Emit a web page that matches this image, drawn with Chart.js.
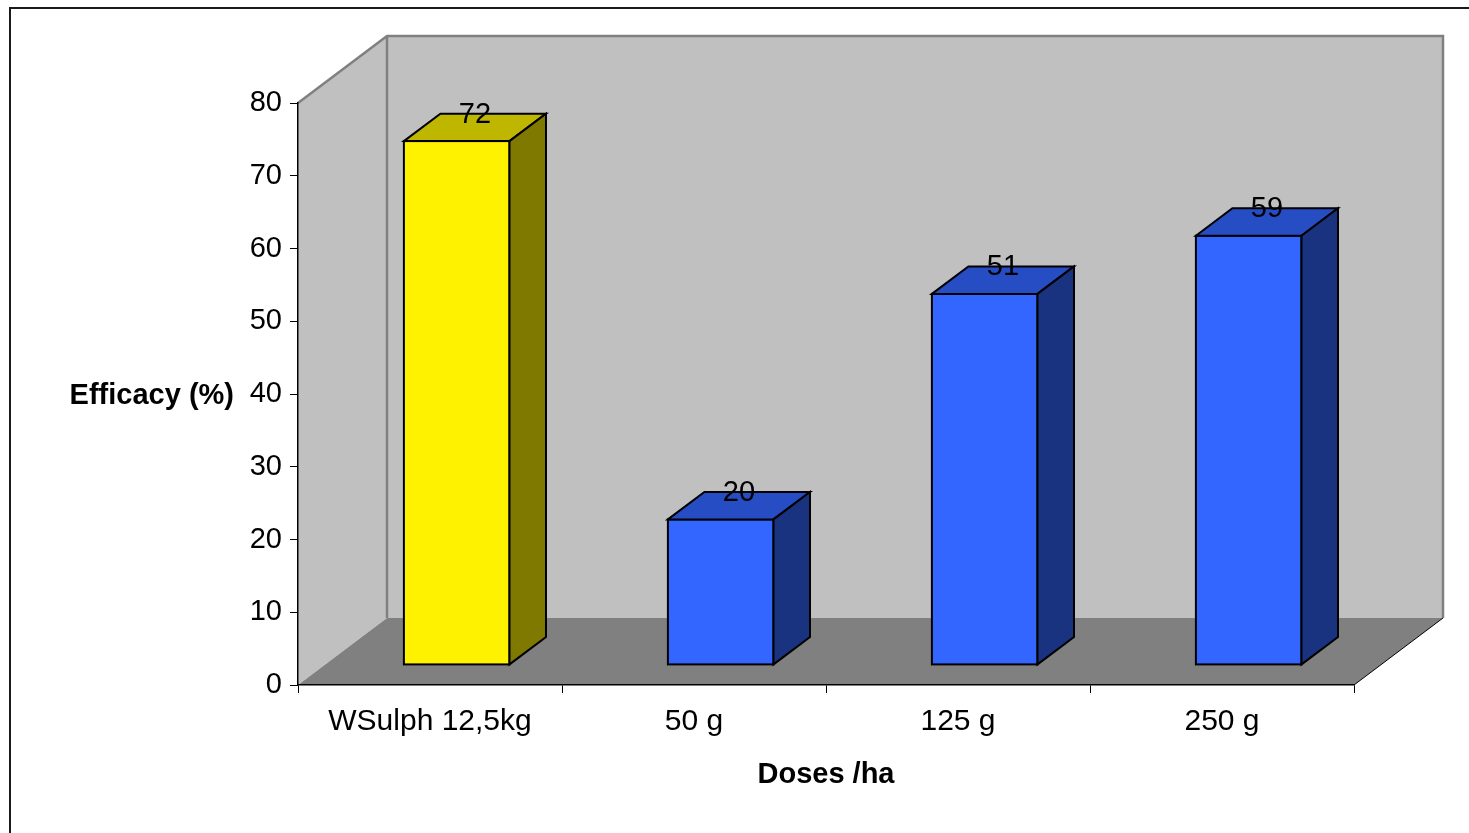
<!DOCTYPE html>
<html>
<head>
<meta charset="utf-8">
<script src="https://cdn.jsdelivr.net/npm/chart.js@4.4.0/dist/chart.umd.min.js"></script>
<style>
  html, body { margin: 0; padding: 0; background: #fff; }
  #wrap { width: 1469px; height: 833px; position: relative; }
</style>
</head>
<body>
<div id="wrap"><canvas id="efficacyChart"></canvas></div>
<script>
const doses = ["WSulph 12,5kg", "50 g", "125 g", "250 g"];
const efficacy = [72, 20, 51, 59];
const yTicks = [0, 10, 20, 30, 40, 50, 60, 70, 80];

// face colours of each bar: front, top, side
const frontColors = ["#FFF200", "#3366FF", "#3366FF", "#3366FF"];
const topColors = ["#BFB600", "#264DC4", "#264DC4", "#264DC4"];
const sideColors = ["#807900", "#1A3380", "#1A3380", "#1A3380"];

const FONT = "'Liberation Sans', Arial, sans-serif";

// oblique depth of the 3D box, and where the bars sit inside it
const DEPTH_X = 89, DEPTH_Y = -67;
const BAR_FRONT = 0.3, BAR_BACK = 0.71;

function poly(ctx, pts) {
    ctx.beginPath();
    ctx.moveTo(pts[0][0], pts[0][1]);
    for (let i = 1; i < pts.length; i++) ctx.lineTo(pts[i][0], pts[i][1]);
    ctx.closePath();
}

const box3d = {
    id: "box3d",
    beforeDraw(chart) {
        const { ctx, chartArea: a } = chart;
        const dx = DEPTH_X, dy = DEPTH_Y;
        ctx.save();

        // outer frame
        ctx.strokeStyle = "#1a1a1a";
        ctx.lineWidth = 2;
        ctx.strokeRect(10, 8, 1600, 1000);

        // walls
        ctx.fillStyle = "#C0C0C0";
        poly(ctx, [[a.left, a.top], [a.left + dx, a.top + dy], [a.left + dx, a.bottom + dy], [a.left, a.bottom]]);
        ctx.fill();
        ctx.fillRect(a.left + dx, a.top + dy, a.right - a.left, a.bottom - a.top);

        ctx.strokeStyle = "#808080";
        ctx.lineWidth = 2.5;
        ctx.beginPath();
        ctx.moveTo(a.left, a.top);
        ctx.lineTo(a.left + dx, a.top + dy);
        ctx.lineTo(a.right + dx, a.top + dy);
        ctx.lineTo(a.right + dx, a.bottom + dy);
        ctx.moveTo(a.left + dx, a.top + dy);
        ctx.lineTo(a.left + dx, a.bottom + dy);
        ctx.stroke();

        // floor
        ctx.fillStyle = "#808080";
        poly(ctx, [[a.left, a.bottom], [a.left + dx, a.bottom + dy], [a.right + dx, a.bottom + dy], [a.right, a.bottom]]);
        ctx.fill();
        ctx.strokeStyle = "#000";
        ctx.lineWidth = 1;
        ctx.beginPath();
        ctx.moveTo(a.right, a.bottom);
        ctx.lineTo(a.right + dx, a.bottom + dy);
        ctx.stroke();
        ctx.restore();
    },
    afterDatasetsDraw(chart) {
        const ctx = chart.ctx;
        const meta = chart.getDatasetMeta(0);
        const values = chart.data.datasets[0].data;
        const fx = DEPTH_X * BAR_FRONT, fy = DEPTH_Y * BAR_FRONT;
        const bx = DEPTH_X * (BAR_BACK - BAR_FRONT), by = DEPTH_Y * (BAR_BACK - BAR_FRONT);
        ctx.save();
        ctx.strokeStyle = "#000";
        ctx.lineWidth = 2;
        ctx.lineJoin = "miter";
        meta.data.forEach((bar, i) => {
            const { x, y, base, width } = bar.getProps(["x", "y", "base", "width"], true);
            const l = x - width / 2 + fx, r = x + width / 2 + fx;
            const t = y + fy, b = base + fy;

            ctx.fillStyle = frontColors[i];
            ctx.fillRect(l, t, r - l, b - t);
            ctx.strokeRect(l, t, r - l, b - t);

            ctx.fillStyle = topColors[i];
            poly(ctx, [[l, t], [l + bx, t + by], [r + bx, t + by], [r, t]]);
            ctx.fill();
            ctx.stroke();

            ctx.fillStyle = sideColors[i];
            poly(ctx, [[r, t], [r + bx, t + by], [r + bx, b + by], [r, b]]);
            ctx.fill();
            ctx.stroke();

            // value label on the top face
            ctx.fillStyle = "#000";
            ctx.font = "29px " + FONT;
            ctx.textAlign = "center";
            ctx.textBaseline = "middle";
            ctx.fillText(String(values[i]), l + (width + bx) / 2, t + by + 1);
        });
        ctx.restore();
    },
    afterDraw(chart) {
        // horizontal y-axis title, as in the original
        const ctx = chart.ctx;
        ctx.save();
        ctx.fillStyle = "#000";
        ctx.font = "bold 29px " + FONT;
        ctx.textAlign = "right";
        ctx.textBaseline = "middle";
        ctx.fillText("Efficacy (%)", 234, 396);
        ctx.restore();
    }
};

const ctx = document.getElementById("efficacyChart").getContext("2d");

new Chart(ctx, {
    type: "bar",
    data: {
        labels: doses,
        datasets: [{
            label: "Efficacy (%)",
            data: efficacy,
            backgroundColor: "rgba(0,0,0,0)",
            borderWidth: 0,
            barPercentage: 0.4,
            categoryPercentage: 1.0
        }]
    },
    options: {
        responsive: true,
        maintainAspectRatio: false,
        animation: false,
        layout: { padding: { top: 103, right: 115, bottom: 0, left: 0 } },
        plugins: {
            legend: { display: false },
            title: { display: false },
            tooltip: { enabled: false }
        },
        scales: {
            x: {
                offset: true,
                grid: { drawOnChartArea: false, drawTicks: true, tickLength: 8, color: "#000", offset: true },
                border: { display: true, color: "#000", width: 1.5 },
                ticks: { font: { family: FONT, size: 30 }, color: "#000", padding: 11, maxRotation: 0 },
                title: {
                    display: true,
                    text: "Doses /ha",
                    color: "#000",
                    font: { family: FONT, size: 29, weight: "bold" },
                    padding: { top: 0, bottom: 41 }
                },
                afterFit(scale) { scale.height = 148; }
            },
            y: {
                min: 0,
                max: 80,
                afterBuildTicks(scale) { scale.ticks = yTicks.map(v => ({ value: v })); },
                grid: { drawOnChartArea: false, drawTicks: true, tickLength: 8, color: "#000" },
                border: { display: true, color: "#000", width: 1.5 },
                ticks: { font: { family: FONT, size: 29 }, color: "#000", padding: 8 },
                afterFit(scale) { scale.width = 298; }
            }
        }
    },
    plugins: [box3d]
});
</script>
</body>
</html>
